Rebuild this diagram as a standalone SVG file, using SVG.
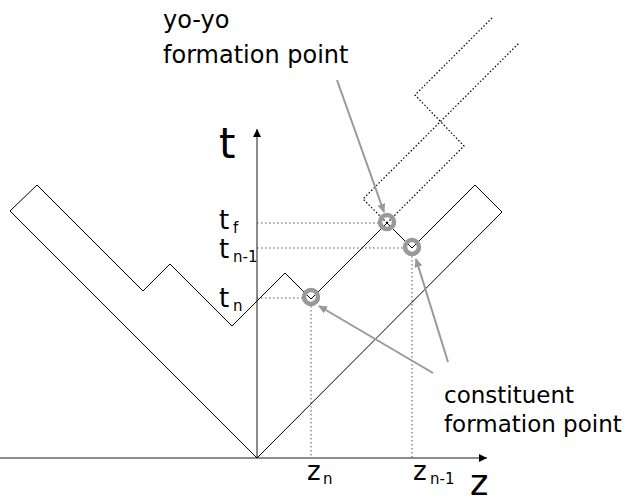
<svg xmlns="http://www.w3.org/2000/svg" width="632" height="504" viewBox="0 0 632 504">
<style>
text{font-family:"DejaVu Sans","Verdana",sans-serif;fill:#000}
.lbl{font-size:24px}
.lbl2{font-size:23px}
.tl{font-size:26px}
.sub{font-size:15px}
.string{fill:none;stroke:#000;stroke-width:1}
.yoyo{fill:none;stroke:#000;stroke-width:1.2;stroke-dasharray:1.5 2}
.guide{fill:none;stroke:#555;stroke-width:1;stroke-dasharray:1.5 2.5}
.axis{fill:none;stroke:#666;stroke-width:1.5}
.ring{fill:none;stroke:#999;stroke-width:4.5}
.pointer{fill:none;stroke:#999;stroke-width:2}
</style>
<defs>
<marker id="ah" markerWidth="8" markerHeight="8" refX="8" refY="4" orient="auto" markerUnits="userSpaceOnUse">
<path d="M0,0 L8,4 L0,8 Z" fill="#000"/>
</marker>
<marker id="gh" markerWidth="9" markerHeight="8" refX="8" refY="4" orient="auto" markerUnits="userSpaceOnUse">
<path d="M0,0 L9,4 L0,8 Z" fill="#999"/>
</marker>
</defs>

<g id="axes">
<line class="axis" x1="0" y1="458" x2="487" y2="458" marker-end="url(#ah)"/>
<line class="axis" x1="257" y1="458" x2="257" y2="129" marker-end="url(#ah)"/>
</g>

<g id="guides">
<line class="guide" x1="257" y1="223" x2="381" y2="223"/>
<line class="guide" x1="257" y1="248" x2="406" y2="248"/>
<line class="guide" x1="257" y1="298" x2="304" y2="298"/>
<line class="guide" x1="311" y1="306" x2="311" y2="458"/>
<line class="guide" x1="412" y1="256" x2="412" y2="458"/>
</g>

<g id="string">
<path class="string" d="M257,458 L10,211 L37,185 L143,291 L170,264 L232,326 L285,273 L311,299 L387,223 L412,248 L475,185 L502,212 Z"/>
</g>

<g id="yoyo">
<path class="yoyo" d="M387,223 L363,199 L519,43"/>
<path class="yoyo" d="M387,223 L464,146 L415,95 L492,18"/>
</g>

<g id="points">
<circle class="ring" cx="311" cy="297" r="7"/>
<circle class="ring" cx="387" cy="222" r="7"/>
<circle class="ring" cx="412" cy="247" r="7"/>
</g>

<g id="connectors">
<line class="pointer" x1="337" y1="80" x2="384" y2="212" marker-end="url(#gh)"/>
<line class="pointer" x1="433" y1="373" x2="319" y2="306" marker-end="url(#gh)"/>
<line class="pointer" x1="448" y1="362" x2="416" y2="259" marker-end="url(#gh)"/>
</g>

<g id="label-yoyo">
<text class="lbl" x="163" y="28">yo-yo</text>
<text class="lbl" x="163" y="63">formation point</text>
</g>
<g id="label-constituent">
<text class="lbl2" x="444" y="403">constituent</text>
<text class="lbl2" x="444" y="432">formation point</text>
</g>

<g id="axis-labels">
<text x="219" y="158" style="font-size:42px">t</text>
<text x="470" y="495" style="font-size:35px">z</text>
</g>

<g id="t-labels">
<text class="tl" x="219" y="229">t</text><text class="sub" x="233" y="233">f</text>
<text class="tl" x="219" y="258">t</text><text class="sub" x="233" y="262">n-1</text>
<text class="tl" x="219" y="307">t</text><text class="sub" x="233" y="311">n</text>
</g>

<g id="z-labels">
<text class="tl" x="307" y="480">z</text><text class="sub" x="323" y="484">n</text>
<text class="tl" x="413" y="480">z</text><text class="sub" x="430" y="484">n-1</text>
</g>
</svg>
